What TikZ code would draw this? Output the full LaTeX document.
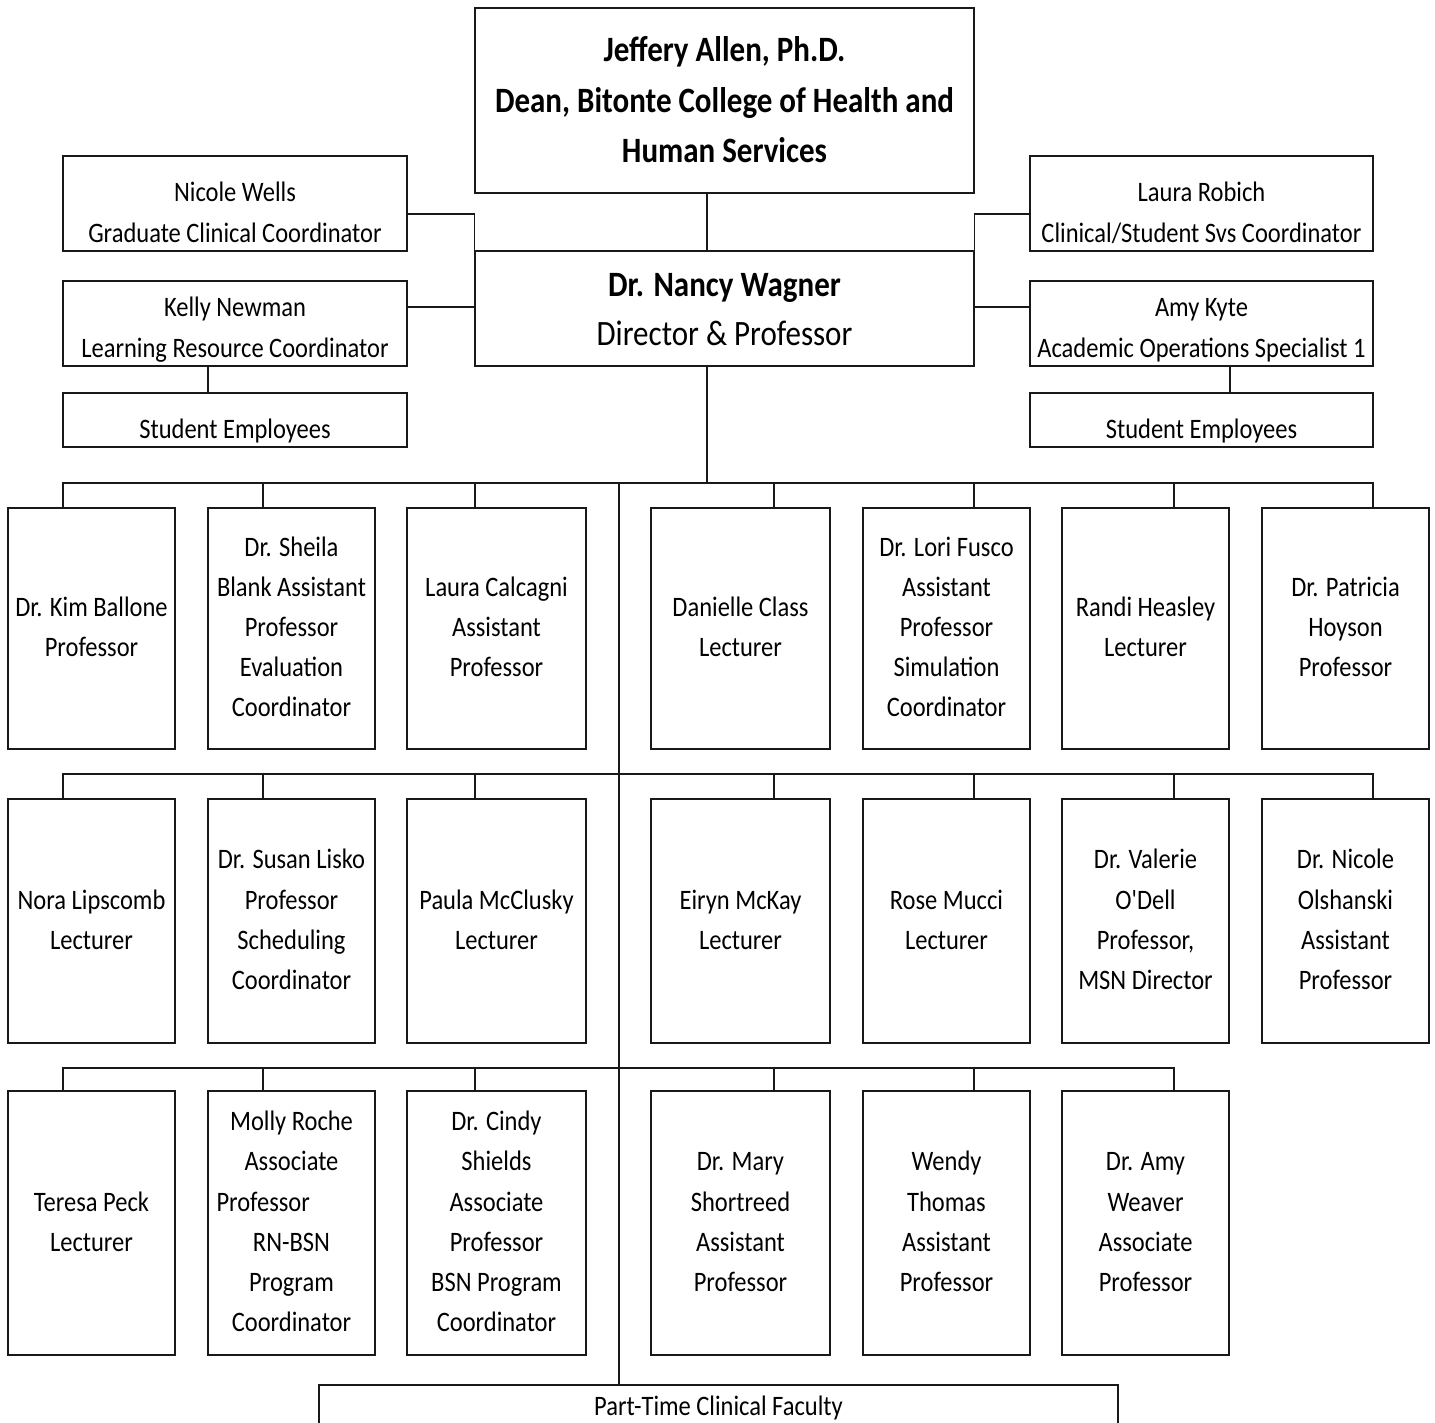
\documentclass[tikz,border=0pt]{standalone}
\usepackage{fontspec}
\setmainfont{Carlito}
\usepackage{graphicx}
\usetikzlibrary{fit}
\newcommand\st[1]{\scalebox{1}[1.15]{\begin{tabular}{@{}c@{}}#1\end{tabular}}}
\newcommand\orgbox[5]{\node[box, fit={(#2,#3) (#4,#5)}] (#1) {};}
\begin{document}
\begin{tikzpicture}[x=1pt,y=-1pt,
  box/.style={draw=black!90, line width=1.4pt, inner sep=0pt},
  ln/.style={draw=black!90, line width=1.4pt},
  txt/.style={inner sep=0pt, text=black, font=\fontsize{24.5}{34.8}\selectfont},
  bigtxt/.style={inner sep=0pt, text=black, font=\fontsize{31}{43.5}\selectfont}]
\useasboundingbox (0,0) rectangle (1435,1423);
\clip (0,0) rectangle (1435,1423);

% top boxes
\orgbox{dean}{475}{8}{974}{193}
\orgbox{nancy}{475}{251}{974}{366}
\orgbox{nw}{63}{156}{407}{251}
\orgbox{kn}{63}{281}{407}{366}
\orgbox{seL}{63}{393}{407}{447}
\orgbox{lr}{1030}{156}{1373}{251}
\orgbox{ak}{1030}{281}{1373}{366}
\orgbox{seR}{1030}{393}{1373}{447}

\node[bigtxt] at (dean.center |- 0,102) {\st{\bfseries Jeffery Allen, Ph.D.\\\bfseries Dean, Bitonte College of Health and\\\bfseries Human Services}};
\node[bigtxt, font=\fontsize{31}{42.6}\selectfont] at (nancy.center |- 0,311.5) {\st{\textbf{Dr. Nancy Wagner}\\Director \& Professor}};
\node[txt] at (nw.center |- 0,214) {\st{Nicole Wells\\Graduate Clinical Coordinator}};
\node[txt] at (kn.center |- 0,329) {\st{Kelly Newman\\Learning Resource Coordinator}};
\node[txt] at (seL.center |- 0,430) {\st{Student Employees}};
\node[txt] at (lr.center |- 0,214) {\st{Laura Robich\\Clinical/Student Svs Coordinator}};
\node[txt] at (ak.center |- 0,329) {\st{Amy Kyte\\Academic Operations Specialist 1}};
\node[txt] at (seR.center |- 0,430) {\st{Student Employees}};

% row boxes
\foreach \r/\ya/\yb in {1/508/749, 2/799/1043}{
  \foreach \c/\xa/\xb in {1/8/175, 2/208/375, 3/407/586, 4/651/830, 5/863/1030, 6/1062/1229, 7/1262/1429}{
    \orgbox{b\r\c}{\xa}{\ya}{\xb}{\yb}
  }
}
\foreach \c/\xa/\xb in {1/8/175, 2/208/375, 3/407/586, 4/651/830, 5/863/1030, 6/1062/1229}{
  \orgbox{b3\c}{\xa}{1091}{\xb}{1355}
}
\orgbox{pt}{319}{1385}{1118}{1440}

% row 1 texts
\node[txt] at (b11) {\st{Dr. Kim Ballone\\Professor}};
\node[txt] at (b12) {\st{Dr. Sheila\\Blank Assistant\\Professor\\Evaluation\\Coordinator}};
\node[txt] at (b13) {\st{Laura Calcagni\\Assistant\\Professor}};
\node[txt] at (b14) {\st{Danielle Class\\Lecturer}};
\node[txt] at (b15) {\st{Dr. Lori Fusco\\Assistant\\Professor\\Simulation\\Coordinator}};
\node[txt] at (b16) {\st{Randi Heasley\\Lecturer}};
\node[txt] at (b17) {\st{Dr. Patricia\\Hoyson\\Professor}};
% row 2 texts
\node[txt] at (b21) {\st{Nora Lipscomb\\Lecturer}};
\node[txt] at (b22) {\st{Dr. Susan Lisko\\Professor\\Scheduling\\Coordinator}};
\node[txt] at (b23) {\st{Paula McClusky\\Lecturer}};
\node[txt] at (b24) {\st{Eiryn McKay\\Lecturer}};
\node[txt] at (b25) {\st{Rose Mucci\\Lecturer}};
\node[txt] at (b26) {\st{Dr. Valerie\\O\textquotesingle Dell\\Professor,\\MSN Director}};
\node[txt] at (b27) {\st{Dr. Nicole\\Olshanski\\Assistant\\Professor}};
% row 3 texts
\node[txt] at (b31) {\st{Teresa Peck\\Lecturer}};
\node[txt] at (b32) {\st{Molly Roche\\Associate\\\makebox[150pt][l]{Professor}\\RN-BSN\\Program\\Coordinator}};
\node[txt] at (b33) {\st{Dr. Cindy\\Shields\\Associate\\Professor\\BSN Program\\Coordinator}};
\node[txt] at (b34) {\st{Dr. Mary\\Shortreed\\Assistant\\Professor}};
\node[txt] at (b35) {\st{Wendy\\Thomas\\Assistant\\Professor}};
\node[txt] at (b36) {\st{Dr. Amy\\Weaver\\Associate\\Professor}};
\node[txt] at (pt.center |- 0,1407) {\st{Part-Time Clinical Faculty}};

% connectors top
\coordinate (j1) at (707,483);
\draw[ln] (dean.south -| j1) -- (nancy.north -| j1);
\draw[ln] (nancy.south -| j1) -- (j1);
\draw[ln] (nw.east |- 0,214) -| (nancy.north west);
\draw[ln] (kn.east |- 0,307) -- (nancy.west |- 0,307);
\draw[ln] (lr.west |- 0,214) -| (nancy.north east);
\draw[ln] (ak.west |- 0,307) -- (nancy.east |- 0,307);
\draw[ln] (kn.south -| 208,0) -- (seL.north -| 208,0);
\draw[ln] (ak.south -| 1230,0) -- (seR.north -| 1230,0);

% buses
\draw[ln] (b11.north -| 63,0) |- (1373,483) -- (b17.north -| 1373,0);
\draw[ln] (b21.north -| 63,0) |- (1373,774) -- (b27.north -| 1373,0);
\draw[ln] (b31.north -| 63,0) |- (1174,1068) -- (b36.north -| 1174,0);
\foreach \c/\dx in {2/263,3/475,4/774,5/974,6/1174}{
  \draw[ln] (b1\c.north -| \dx,0) -- (\dx,483);
  \draw[ln] (b2\c.north -| \dx,0) -- (\dx,774);
}
\foreach \c/\dx in {2/263,3/475,4/774,5/974}{
  \draw[ln] (b3\c.north -| \dx,0) -- (\dx,1068);
}
\coordinate (trunk) at (619,483);
\draw[ln] (trunk) -- (pt.north -| trunk);
\end{tikzpicture}
\end{document}
